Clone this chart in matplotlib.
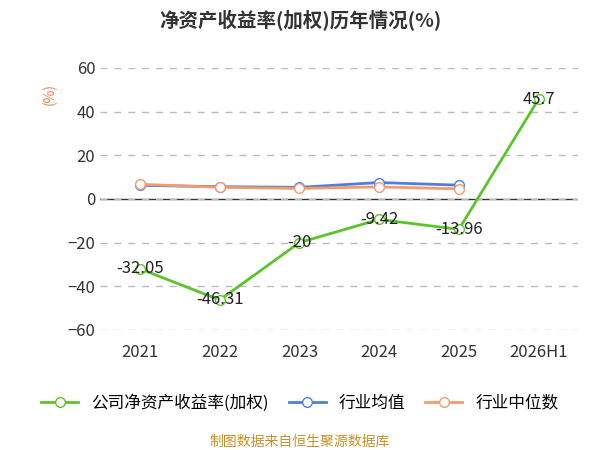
import matplotlib
matplotlib.use("Agg")
import matplotlib.pyplot as plt

plt.rcParams['font.family'] = ['Noto Sans CJK SC', 'DejaVu Sans']

years = ["2021", "2022", "2023", "2024", "2025", "2026H1"]
roe = [-32.05, -46.31, -20, -9.42, -13.96, 45.7]
ind_mean = [6.2, 5.6, 5.3, 7.5, 6.3]
ind_median = [6.7, 5.3, 4.8, 5.5, 4.6]

fig = plt.figure(figsize=(6, 4.5), dpi=100)
ax = fig.add_axes([0.167, 0.267, 0.797, 0.582])
x = list(range(len(years)))
ax.plot(x, roe, color='#5cc42b', lw=2, marker='o', ms=7, mfc='white', mec='#5cc42b', label='公司净资产收益率(加权)', zorder=3)
ax.plot(x[:5], ind_mean, color='#4e7fe0', lw=2, marker='o', ms=7, mfc='white', mec='#4e7fe0', label='行业均值', zorder=2)
ax.plot(x[:5], ind_median, color='#f29b6f', lw=2, marker='o', ms=7, mfc='white', mec='#f29b6f', label='行业中位数', zorder=2)
for xi, v in zip(x, roe):
    ax.text(xi, v, f"{v:g}", ha='center', va='center', fontsize=12, color='#222222', zorder=4)

ax.set_xlim(-0.5, 5.5)
ax.set_ylim(-60, 60)
ax.set_yticks(range(-60, 61, 20))
ax.set_xticks(x)
ax.set_xticklabels(years)
ax.tick_params(axis='both', labelsize=12, length=0, colors='#333333')
ax.tick_params(axis='x', pad=10)
ax.grid(axis='y', ls=(0, (5, 5)), color='#bbbbbb', lw=1)
for s in ['top', 'right', 'left', 'bottom']:
    ax.spines[s].set_visible(False)
ax.axhline(0, color='#333333', lw=1, zorder=1)
ax.text(-0.105, 0.9, "(%)", transform=ax.transAxes, rotation=90, color='#f07f4f', fontsize=10, ha='center', va='center')

fig.text(0.5, 0.955, "净资产收益率(加权)历年情况(%)", ha='center', va='center', fontsize=14, fontweight='bold', color='#333333')
fig.legend(loc='center', bbox_to_anchor=(0.5, 0.105), ncol=3, frameon=False, fontsize=12, handlelength=2.2, columnspacing=1.2)
fig.text(0.5, 0.018, "制图数据来自恒生聚源数据库", ha='center', va='center', fontsize=10, color='#c8922a')

fig.savefig("out.png", dpi=100)
